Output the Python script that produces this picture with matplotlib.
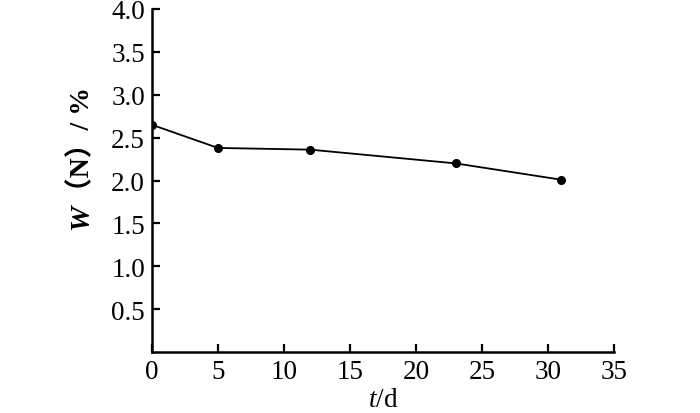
import matplotlib.pyplot as plt

days = [0, 5, 12, 23, 31]
nitrogen = [2.65, 2.38, 2.36, 2.20, 2.01]
xticks = [0, 5, 10, 15, 20, 25, 30, 35]
yticks = [0.5, 1.0, 1.5, 2.0, 2.5, 3.0, 3.5, 4.0]

plt.rcParams['font.family'] = ['Liberation Serif', 'Noto Sans CJK SC']
plt.rcParams['mathtext.fontset'] = 'custom'
plt.rcParams['mathtext.it'] = 'Liberation Serif:italic'
plt.rcParams['mathtext.rm'] = 'Liberation Serif'

fig = plt.figure(figsize=(7, 4.14), dpi=100)
ax = fig.add_axes([0.217, 0.147, 0.66, 0.829])

ax.plot(days, nitrogen, color='black', lw=1.3, marker='o', ms=5.5)

ax.set_xlim(0, 35)
ax.set_ylim(0, 4.0)
ax.set_xticks(xticks)
ax.set_yticks(yticks)
ax.set_yticklabels(['%.1f' % v for v in yticks])

for s in ['top', 'right']:
    ax.spines[s].set_visible(False)
for s in ['left', 'bottom']:
    ax.spines[s].set_linewidth(1.8)

ax.tick_params(direction='in', length=6, width=1.6, labelsize=19.5, pad=5)

ax.set_xlabel(r'$t$/d', fontsize=19.5, labelpad=2)

# y label: italic bold W followed by the rest
w = fig.text(82 / 700, (414 - 230) / 414, 'W', rotation=90, ha='center', va='bottom',
             fontsize=20.5, fontweight='bold', fontstyle='italic')
ax.annotate('（N）/ %', xy=(0.5, 1.0), xycoords=w, rotation=90, ha='center', va='bottom',
            fontsize=20, fontweight='bold', annotation_clip=False)

fig.savefig('out.png', dpi=100)
